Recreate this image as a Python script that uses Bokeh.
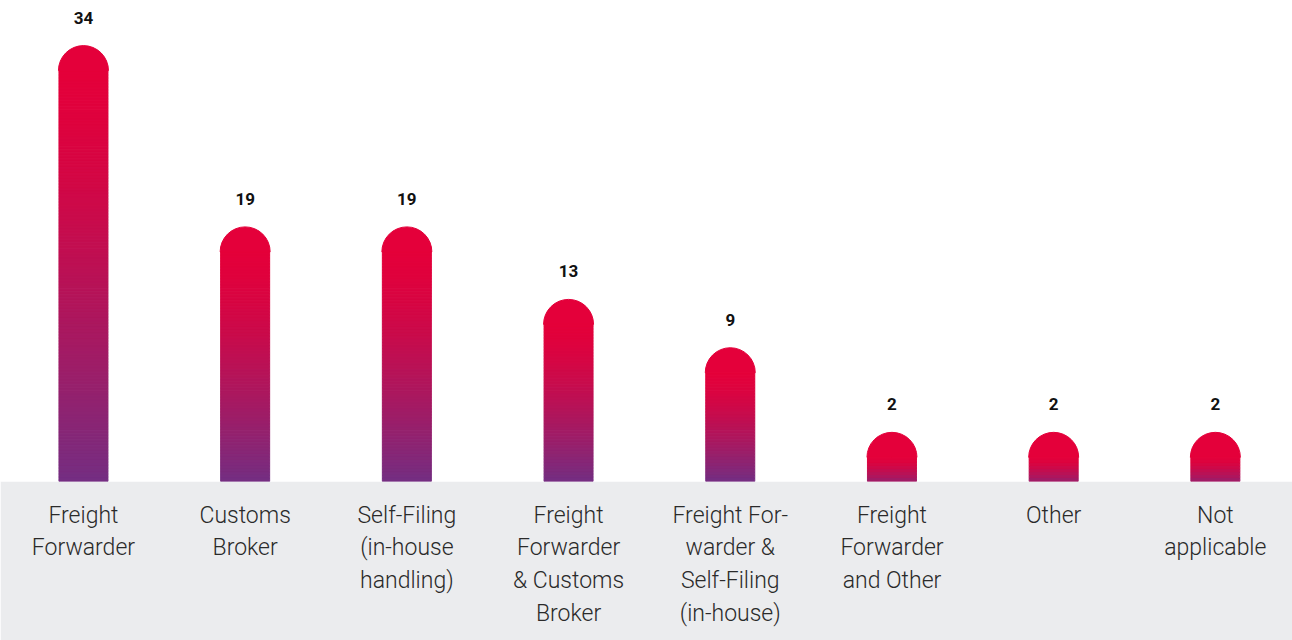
import numpy as np
from bokeh.plotting import figure
from bokeh.models import Range1d, FixedTicker, ColumnDataSource
from bokeh.core.properties import value
from bokeh.embed import file_html
from bokeh.resources import INLINE

categories = [
    "Freight\nForwarder",
    "Customs\nBroker",
    "Self-Filing\n(in-house\nhandling)",
    "Freight\nForwarder\n& Customs\nBroker",
    "Freight For-\nwarder &\nSelf-Filing\n(in-house)",
    "Freight\nForwarder\nand Other",
    "Other",
    "Not\napplicable",
]
counts = [34, 19, 19, 13, 9, 2, 2, 2]

RED = np.array([228, 0, 58])
PURPLE = np.array([116, 46, 130])

def mix(t):
    c = RED + (PURPLE - RED) * t
    return "#%02x%02x%02x" % tuple(int(round(v)) for v in c)

Y_END = 39.8
FRAME_H = 481

p = figure(width=1292, height=640, output_backend="svg", toolbar_location=None,
           x_range=Range1d(-0.513, 7.477), y_range=Range1d(0, Y_END),
           min_border_left=0, min_border_right=0, min_border_top=0, min_border_bottom=159)
p.background_fill_color = "white"
p.border_fill_color = "#EBECEE"
p.outline_line_color = None
p.grid.visible = False
p.yaxis.visible = False

# gradient bars built from stacked slices
px_per_unit = FRAME_H / Y_END
xs, ys, hs, cols = [], [], [], []
for i, v in enumerate(counts):
    t_end = min(1.0, 0.55 + v / 20.0)
    n = max(6, int(v * px_per_unit / 3))
    for k in range(n):
        y1 = v * (n - k) / n
        y0 = v * (n - k - 1) / n
        t = ((k + 0.5) / n) ** 1.4 * t_end
        xs.append(i)
        ys.append((y0 + y1) / 2)
        hs.append(y1 - y0)
        cols.append(mix(t))
src = ColumnDataSource(dict(x=xs, y=ys, h=hs, c=cols))
p.rect(x="x", y="y", width=49, height="h", width_units="screen", source=src,
       fill_color="c", line_color="c", line_width=1)

caps = ColumnDataSource(dict(x=list(range(len(counts))), y=counts,
                             lab=[str(c) for c in counts]))
p.wedge(x="x", y="y", radius=25, radius_units="screen", start_angle=0, end_angle=np.pi,
        direction="anticlock", source=caps, fill_color=mix(0), line_color=mix(0))

p.text(x="x", y="y", text="lab", source=caps, y_offset=-53, text_align="center",
       text_baseline="alphabetic", text_font=value("Roboto"), text_font_style="bold",
       text_font_size="17px", text_color="#111111")

p.xaxis.ticker = FixedTicker(ticks=list(range(len(categories))))
p.xaxis.major_label_overrides = {i: c for i, c in enumerate(categories)}
p.xaxis.axis_line_color = None
p.xaxis.major_tick_line_color = None
p.xaxis.minor_tick_line_color = None
p.xaxis.major_label_standoff = 14
p.xaxis.major_label_text_font = "Roboto Light"
p.xaxis.major_label_text_font_size = "23px"
p.xaxis.major_label_text_color = "#2a2a2a"
p.xaxis.major_label_text_line_height = 1.21

open("out.html", "w").write(file_html(p, INLINE))
